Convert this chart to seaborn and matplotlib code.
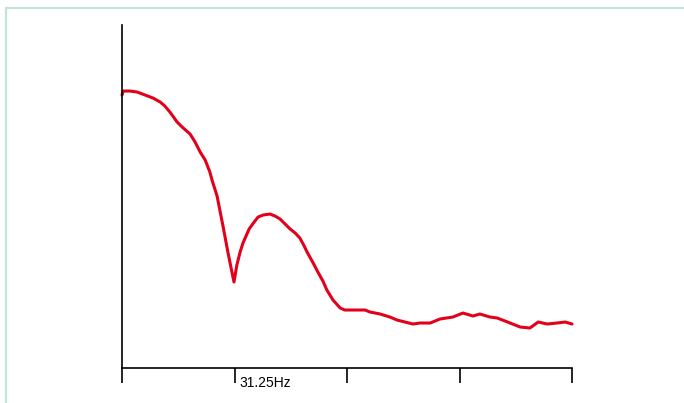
import matplotlib
matplotlib.use('Agg')
import matplotlib.pyplot as plt
from matplotlib.lines import Line2D
import pandas as pd
import seaborn as sns

# Spectrum trace (frequency in Hz, level in arbitrary units)
freq_hz = [0.0, 0.3, 2.2, 4.2, 6.4, 8.6, 10.6, 11.9, 13.3, 15.3, 16.7, 18.9, 20.3,
           21.7, 23.1, 24.4, 25.0, 26.4, 28.1, 29.4, 30.3, 31.1, 31.9, 32.8, 33.6,
           35.3, 36.7, 37.8, 39.2, 41.1, 42.5, 43.9, 45.3, 46.7, 48.1, 49.4, 50.6,
           51.4, 53.1, 54.4, 55.8, 56.9, 58.6, 60.6, 61.9, 67.5, 68.9, 71.7, 74.4,
           76.4, 78.6, 80.8, 82.8, 85.6, 88.3, 91.9, 94.7, 97.5, 99.4, 102.2, 104.2,
           106.4, 107.8, 110.6, 113.3, 115.6, 118.1, 120.8, 123.1, 125.0]
level = [273, 277, 277, 276, 273, 270, 266, 262, 256, 246, 241, 234, 226,
         216, 208, 196, 188, 172, 141, 116, 100, 86, 103, 116, 125,
         139, 146, 151, 153, 154, 152, 149, 144, 139, 135, 130, 122,
         116, 105, 96, 87, 78, 68, 60, 58, 58, 56, 54, 51,
         48, 46, 44, 45, 45, 49, 51, 55, 52, 54, 51, 50,
         47, 45, 41, 40, 46, 44, 45, 46, 44]

tick_pos = [0, 31.25, 62.5, 93.75, 125]
tick_labels = ['', '31.25Hz', '', '', '']

df = pd.DataFrame({'freq': freq_hz, 'level': level})

sns.set_style('white')
plt.rcParams['font.family'] = ['Liberation Sans', 'DejaVu Sans']

fig = plt.figure(figsize=(6.84, 4.03), dpi=100)
ax = fig.add_axes([0.1784, 0.0868, 0.6579, 0.8511])

sns.lineplot(data=df, x='freq', y='level', ax=ax, color='#e3001b',
             linewidth=2.2, clip_on=False)

ax.set_xlim(0, 125)
ax.set_ylim(0, 343)
sns.despine(ax=ax)
for side in ['left', 'bottom']:
    ax.spines[side].set_color('black')
    ax.spines[side].set_linewidth(1.2)

ax.set_yticks([])
ax.set_xticks(tick_pos)
ax.set_xticklabels([])
ax.tick_params(axis='x', direction='out', length=11, width=1.2, color='black',
               bottom=True)
ax.set_xlabel('')
ax.set_ylabel('')

for pos, lab in zip(tick_pos, tick_labels):
    if lab:
        ax.annotate(lab, xy=(pos, 0), xycoords=('data', 'axes fraction'),
                    xytext=(5, -8), textcoords='offset pixels',
                    ha='left', va='top', fontsize=10, color='black')

# light frame around the figure (top and left edges visible)
border = '#c2e5d6'
fig.add_artist(Line2D([5.5 / 684, 5.5 / 684], [0, 1 - 7.5 / 403],
                      transform=fig.transFigure, color=border, linewidth=1.6))
fig.add_artist(Line2D([5.5 / 684, 1], [1 - 7.5 / 403, 1 - 7.5 / 403],
                      transform=fig.transFigure, color=border, linewidth=1.6))

fig.savefig('out.png', dpi=100)
